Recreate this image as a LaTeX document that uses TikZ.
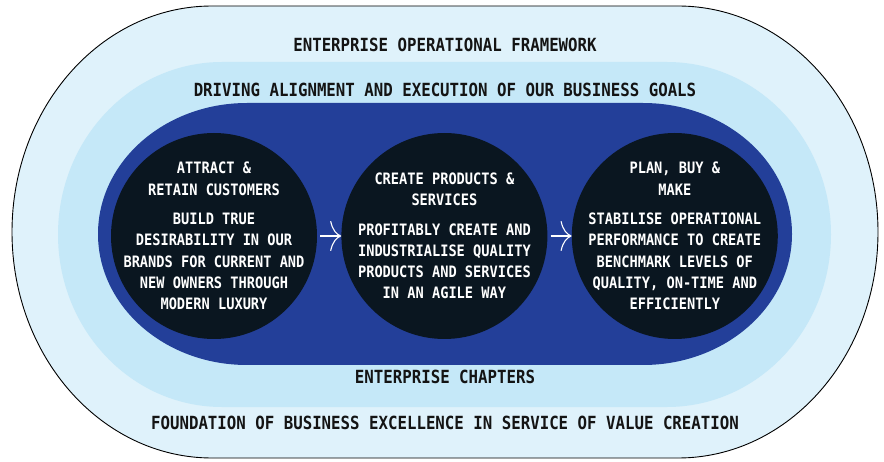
\documentclass[tikz,border=0pt]{standalone}
\usepackage{fontspec}
\newfontfamily\diagfont{DejaVu Sans Mono}[FakeStretch=0.87]
\usetikzlibrary{positioning,arrows.meta}
\definecolor{paleblue}{HTML}{DFF2FB}
\definecolor{lightblue}{HTML}{C5E8F8}
\definecolor{royal}{HTML}{233F99}
\definecolor{ink}{HTML}{0A1620}
\definecolor{headtext}{HTML}{141414}

\begin{document}
\begin{tikzpicture}[x=1pt,y=1pt,node distance=24pt, every node/.style={align=center},
  head/.style={anchor=base,text=headtext,font=\diagfont\bfseries\fontsize{18.1}{20}\selectfont},
  stage/.style={circle,fill=ink,minimum size=206pt,inner sep=0pt},
  stagetext/.style={text=white,font=\diagfont\bfseries\fontsize{15.7}{21.3}\selectfont},
  flow/.style={draw=white,line width=1.1pt,shorten <=3pt,
    -{Computer Modern Rightarrow[length=11pt,width=30pt]}}]
\useasboundingbox (0,0) rectangle (884,461);
% nested layers
\filldraw[fill=paleblue,draw=black,line width=0.9pt] (212,455) -- (678,455)
  arc[start angle=90,end angle=-90,x radius=200,y radius=226] -- (212,3)
  arc[start angle=270,end angle=90,x radius=200,y radius=226] -- cycle;
\fill[lightblue] (222,399) -- (667,399)
  arc[start angle=90,end angle=-90,x radius=164,y radius=172.5] -- (222,54)
  arc[start angle=270,end angle=90,x radius=164,y radius=172.5] -- cycle;
\fill[royal] (247,358) -- (643,358)
  arc[start angle=90,end angle=-90,x radius=149,y radius=131] -- (247,96)
  arc[start angle=270,end angle=90,x radius=149,y radius=131] -- cycle;
% labels of the layers
\node[head] (frame) at (445,409.4) {ENTERPRISE OPERATIONAL FRAMEWORK};
\node[head] (align) at (445,364.4) {DRIVING ALIGNMENT AND EXECUTION OF OUR BUSINESS GOALS};
\node[head] (chapters) at (445,77.4) {ENTERPRISE CHAPTERS};
\node[head] (found) at (445,31.4) {FOUNDATION OF BUSINESS EXCELLENCE IN SERVICE OF VALUE CREATION};
% the three stages
\node[stage,label={[stagetext]center:ATTRACT \&\\RETAIN CUSTOMERS\\[8pt]BUILD TRUE\\DESIRABILITY IN OUR\\BRANDS FOR CURRENT AND\\NEW OWNERS THROUGH\\MODERN LUXURY}] (attract) at (214,225) {};
\node[stage,right=of attract,label={[stagetext]center:CREATE PRODUCTS \&\\SERVICES\\[8pt]PROFITABLY CREATE AND\\INDUSTRIALISE QUALITY\\PRODUCTS AND SERVICES\\IN AN AGILE WAY}] (create) {};
\node[stage,right=of create,label={[stagetext]center:PLAN, BUY \&\\MAKE\\[8pt]STABILISE OPERATIONAL\\PERFORMANCE TO CREATE\\BENCHMARK LEVELS OF\\QUALITY, ON-TIME AND\\EFFICIENTLY}] (plan) {};
\draw[flow] (attract) -- (create);
\draw[flow] (create) -- (plan);
\end{tikzpicture}
\end{document}
